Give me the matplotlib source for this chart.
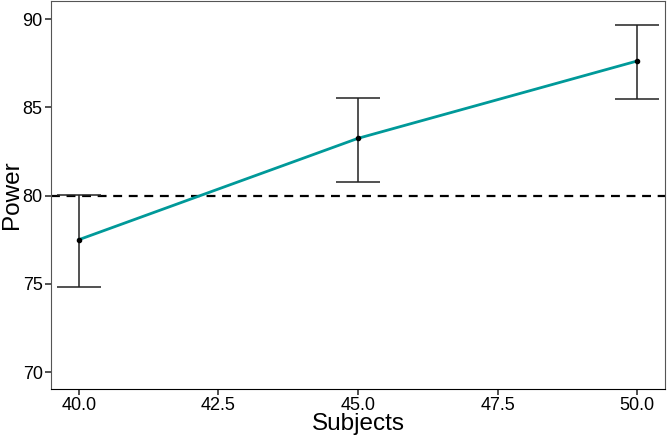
import numpy as np
import matplotlib.pyplot as plt

plt.rcParams['font.family'] = ['Liberation Sans', 'DejaVu Sans']

subjects = [40, 45, 50]
power = [77.5, 83.24, 87.62]
lower = [74.8, 80.78, 85.47]
upper = [80.05, 85.54, 89.66]
target = 80
xticks = [40.0, 42.5, 45.0, 47.5, 50.0]
yticks = [70, 75, 80, 85, 90]

fig = plt.figure(figsize=(6.67, 4.43), dpi=100)
ax = fig.add_axes([51 / 667, 1 - 389 / 443, (665 - 51) / 667, (389 - 1) / 443])

yerr = np.array([np.array(power) - np.array(lower), np.array(upper) - np.array(power)])
ax.errorbar(subjects, power, yerr=yerr, fmt='none', ecolor='#222222', elinewidth=1.1,
            capsize=15.8, capthick=1.1, zorder=2)
ax.axhline(target, color='black', linestyle=(0, (4, 3)), linewidth=1.6, zorder=1)
ax.plot(subjects, power, color='#009999', linewidth=2, zorder=3)
ax.scatter(subjects, power, color='black', s=9, zorder=4)

ax.set_xlim(39.5, 50.5)
ax.set_ylim(69.04, 91.02)
ax.set_xticks(xticks)
ax.set_xticklabels(['%.1f' % v for v in xticks])
ax.set_yticks(yticks)
ax.tick_params(labelsize=13, length=4, width=1.2, color='#333333', labelcolor='black', pad=2)
ax.set_xlabel('Subjects', fontsize=17.5, labelpad=-1)
ax.set_ylabel('Power', fontsize=17.5)
ax.yaxis.set_label_coords(-0.046, 0.5)
for side in ['left', 'top', 'right']:
    ax.spines[side].set_color('#555555')
ax.spines['bottom'].set_color('black')

plt.savefig('out.png', dpi=100)
